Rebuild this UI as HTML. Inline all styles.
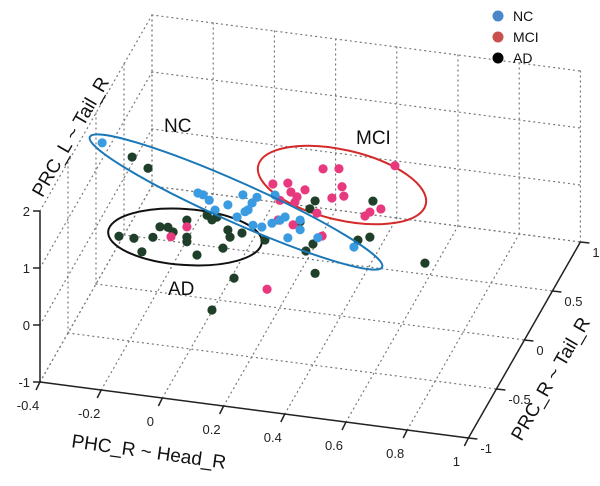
<!DOCTYPE html>
<html><head><meta charset="utf-8"><style>
html,body{margin:0;padding:0;background:#fff;}
svg{display:block;font-family:"Liberation Sans",sans-serif;}
</style></head><body>
<svg id="chart" width="600" height="486" viewBox="0 0 600 486"></svg>
<script>
// ---- data ----
const xTicks = [-0.4,-0.2,0,0.2,0.4,0.6,0.8,1];
const xTickLabels = ["-0.4","-0.2","0","0.2","0.4","0.6","0.8","1"];
const yTicks = [-1,-0.5,0,0.5,1];
const yTickLabels = ["-1","-0.5","0","0.5","1"];
const zTicks = [-1,0,1,2];
const zTickLabels = ["-1","0","1","2"];
const ncX = [-0.38,-0.05,-0.03,0.031,0.08,0.11,0.097,0.087,0.126,0.113,0.142,0.175,0.201,0.218,0.227,0.267,0.267,0.325,0.443,-0.011,0.061,0.185,-0.067];
const ncZ = [1.49,0.81,0.73,0.69,0.90,0.78,0.65,0.61,0.89,0.39,0.38,0.47,0.54,0.61,0.25,0.59,0.42,0.32,0.24,0.57,0.50,0.97,0.83];
const mciX = [-0.155,-0.103,0.159,0.342,0.394,0.178,0.227,0.237,0.257,0.25,0.283,0.201,0.404,0.41,0.371,0.479,0.495,0.531,0.577,0.322,0.244,0.339,0.195];
const mciZ = [0.00,0.21,-0.70,1.54,1.58,1.16,1.21,1.06,0.99,0.89,1.13,0.89,1.27,1.11,1.05,0.81,0.89,0.97,1.76,0.75,0.49,0.36,0.54];
const adX = [-0.282,-0.23,-0.325,-0.276,-0.25,-0.214,-0.191,-0.165,-0.148,-0.103,-0.103,-0.103,-0.07,-0.037,-0.021,-0.005,0.031,0.038,0.077,0.015,0.051,-0.021,0.316,0.299,0.505,0.495,0.456,0.309,0.286,0.316,0.675,0.267,0.152];
const adZ = [1.31,1.15,-0.11,-0.11,-0.33,-0.05,0.15,0.16,0.09,0.33,0.03,-0.05,-0.26,0.46,0.39,0.45,0.25,0.13,0.23,-0.08,-0.58,-1.19,0.96,0.81,1.09,0.45,0.37,0.20,0.06,-0.31,0.12,0.56,0.16];
const depthY = 0;

// ---- projection ----
function P(x,y,z){
  return [40 + (x+0.4)*306 + (y+1)*56, 382 + (x+0.4)*40 - (y+1)*98 - (z+1)*57];
}
const svg = document.getElementById('chart');
const NS = 'http://www.w3.org/2000/svg';
function mk(tag, attrs, parent){
  const e = document.createElementNS(NS, tag);
  for (const k in attrs) e.setAttribute(k, attrs[k]);
  (parent||svg).appendChild(e);
  return e;
}
function line(a,b,attrs,parent){ return mk('line',Object.assign({x1:a[0],y1:a[1],x2:b[0],y2:b[1]},attrs),parent); }

// ---- grid ----
const grid = mk('g',{});


const gs = {stroke:'#777','stroke-width':1.2,'stroke-dasharray':'1 4','stroke-linecap':'round'};
xTicks.forEach(x=>{ line(P(x,1,-1),P(x,1,2),gs,grid); line(P(x,-1,-1),P(x,1,-1),gs,grid); });
zTicks.forEach(z=>{ line(P(-0.4,1,z),P(1,1,z),gs,grid); line(P(-0.4,-1,z),P(-0.4,1,z),gs,grid); });
yTicks.forEach(y=>{ line(P(-0.4,y,-1),P(-0.4,y,2),gs,grid); line(P(-0.4,y,-1),P(1,y,-1),gs,grid); });

// ---- axes ----
const ax = {stroke:'#222','stroke-width':1.5};
const xAxis = line(P(-0.4,-1,-1),P(1,-1,-1),ax);


const yAxis = line(P(1,-1,-1),P(1,1,-1),ax);


const zAxis = line(P(-0.4,-1,-1),P(-0.4,-1,2),ax);


xTicks.forEach((x,i)=>{
  const p=P(x,-1,-1);
  line(p,[p[0]-4,p[1]+8],ax);
  const t=mk('text',{x:p[0]-12,y:p[1]+28,'font-size':13,'text-anchor':'middle',fill:'#222'});
  t.textContent=xTickLabels[i];
  
  
});
yTicks.forEach((y,i)=>{
  const p=P(1,y,-1);
  line(p,[p[0]+9,p[1]+1],ax);
  const t=mk('text',{x:p[0]+12,y:p[1]+15,'font-size':13,'text-anchor':'start',fill:'#222'});
  t.textContent=yTickLabels[i];
  
  
});
zTicks.forEach((z,i)=>{
  const p=P(-0.4,-1,z);
  line(p,[p[0]-7,p[1]],ax);
  const t=mk('text',{x:p[0]-10,y:p[1]+5,'font-size':13,'text-anchor':'end',fill:'#222'});
  t.textContent=zTickLabels[i];
  
  
});

// ---- axis titles ----
function title(txt,x,y,rot,name){
  const t=mk('text',{x:x,y:y,'font-size':19,'text-anchor':'middle',fill:'#111',transform:`rotate(${rot} ${x} ${y})`});
  t.textContent=txt;
  
  
}
title('PHC_R ~ Head_R',148,458,8,'x-axis-title');
title('PRC_R ~ Tail_R',556,382,-60,'y-axis-title');
title('PRC_L ~ Tail_R',76,140,-60,'z-axis-title');

// ---- ellipses ----
function ell(cx,cy,rx,ry,rot,col,name){
  const e=mk('ellipse',{cx:cx,cy:cy,rx:rx,ry:ry,fill:'none',stroke:col,'stroke-width':2,transform:`rotate(${rot} ${cx} ${cy})`});
  
  
}
ell(185,237,77,28,4,'#111','ad-ellipse');
ell(342,185,86,35,13,'#d42a2a','mci-ellipse');

// ---- points ----
function series(xs,zs,col,name){
  const g=mk('g',{});
  
  
  xs.forEach((x,i)=>{
    const p=P(x,depthY,zs[i]);
    const c=mk('circle',{cx:p[0],cy:p[1],r:4.6,fill:col},g);
    
    
  });
}
series(adX,adZ,'#1f3f2a','ad-series');
series(mciX,mciZ,'#e8387e','mci-series');
series(ncX,ncZ,'#3b9be0','nc-series');
ell(236,202,160,20,24,'#1b78b8','nc-ellipse');

// ---- annotations ----
function lab(txt,x,y,name){
  const t=mk('text',{x:x,y:y,'font-size':19,fill:'#111'});
  t.textContent=txt;
  
  
}
lab('NC',164,132,'nc-label');
lab('MCI',356,144,'mci-label');
lab('AD',168,295,'ad-label');

// ---- legend ----
const leg=mk('g',{});


const legNames=['NC','MCI','AD'];
const legCols=['#4a86c8','#c9524f','#000'];
legNames.forEach((n,i)=>{
  const y=16+i*21;
  const c=mk('circle',{cx:498,cy:y,r:5.5,fill:legCols[i]},leg);
  
  
  const t=mk('text',{x:513,y:y+5,'font-size':14,fill:'#111'},leg);
  t.textContent=n;
  
  
});
</script>
</body></html>
